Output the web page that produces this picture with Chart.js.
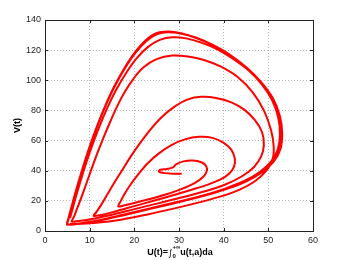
<!DOCTYPE html>
<html>
<head>
<meta charset="utf-8">
<script src="https://cdn.jsdelivr.net/npm/chart.js@4.4.0/dist/chart.umd.min.js"></script>
<style>
  html, body { margin: 0; padding: 0; background: #fff; }
  #wrap { width: 346px; height: 260px; }
</style>
</head>
<body>
<div id="wrap"><canvas id="phaseChart"></canvas></div>
<script>
// === data: one array pair per turn of the spiral ===
// inner "heart", starts at the end point near (30.6, 38)
const heartU = [30.6, 28.8, 26.8, 25.5, 25.8, 27.3, 28.6, 29.4, 31.0, 33.0, 35.0, 36.1, 36.2, 35.4, 33.5, 30.5, 27.0, 23.5, 20.0, 17.6, 16.4];
const heartV = [38.0, 38.0, 38.4, 39.4, 40.6, 41.2, 42.2, 44.3, 46.2, 46.8, 45.6, 43.0, 39.6, 35.8, 31.8, 27.8, 24.2, 21.2, 18.6, 16.9, 16.4];

// turn with top near V=62
const loop62U = [16.9, 17.8, 19.2, 21.0, 23.0, 25.5, 28.3, 31.3, 34.5, 37.5, 40.0, 41.7, 42.5, 42.3, 41.2, 39.3, 36.5, 33.0, 29.0, 24.5, 20.0, 15.5, 12.5, 10.9];
const loop62V = [19.5, 24.5, 31.0, 38.0, 45.0, 51.5, 57.0, 60.8, 62.5, 61.8, 58.5, 54.0, 48.0, 42.5, 38.0, 34.2, 30.8, 27.5, 24.0, 20.2, 16.5, 12.8, 10.6, 10.0];

// turn with top near V=89
const loop89U = [11.5, 12.5, 13.8, 15.4, 17.2, 19.1, 21.2, 23.5, 26.1, 29.0, 32.0, 35.0, 38.3, 41.6, 44.6, 47.0, 48.6, 49.0, 48.4, 46.8, 44.2, 40.5, 36.0, 31.0, 25.5, 20.0, 14.5, 10.0, 7.4, 6.0];
const loop89V = [12.5, 17.0, 23.5, 31.5, 40.0, 49.0, 58.0, 67.0, 75.5, 82.5, 87.3, 89.0, 88.3, 85.5, 80.5, 73.5, 65.5, 57.0, 49.5, 42.5, 36.5, 31.0, 26.5, 22.5, 18.5, 14.5, 10.5, 7.6, 6.6, 6.4];

// turn with top near V=116
const loop116U = [6.5, 7.2, 8.1, 9.2, 10.4, 11.7, 13.1, 14.6, 16.2, 17.9, 19.8, 22.0, 25.0, 28.5, 32.0, 35.6, 39.4, 43.2, 46.5, 49.0, 50.6, 51.2, 50.9, 49.4, 47.0, 43.6, 39.4, 34.5, 29.0, 23.0, 17.0, 11.5, 7.5, 5.6, 5.2];
const loop116V = [9.5, 15.0, 22.0, 31.0, 41.0, 51.5, 62.0, 72.5, 83.0, 92.5, 101.0, 108.5, 114.0, 116.4, 115.8, 113.5, 109.0, 102.0, 92.0, 80.0, 67.0, 56.0, 47.0, 39.5, 33.0, 27.5, 23.0, 19.0, 15.0, 11.0, 7.5, 5.4, 4.8, 4.8];

// turn with top near V=128
const loop128U = [5.6, 6.2, 7.0, 8.0, 9.2, 10.6, 12.2, 14.0, 16.0, 18.2, 20.5, 23.0, 25.7, 28.5, 31.6, 35.0, 38.6, 42.2, 45.6, 48.5, 50.8, 52.2, 52.6, 52.1, 50.6, 48.0, 44.5, 40.0, 35.0, 29.5, 23.5, 17.5, 11.8, 7.6, 5.4, 5.0];
const loop128V = [8.5, 15.0, 23.5, 33.5, 45.0, 57.0, 69.5, 82.0, 94.0, 105.0, 114.5, 122.0, 126.8, 128.5, 127.8, 125.0, 120.5, 114.0, 106.5, 97.5, 87.0, 75.5, 64.0, 54.0, 46.0, 39.0, 33.0, 27.8, 23.3, 19.2, 15.0, 10.8, 7.0, 4.9, 4.3, 4.3];

// outer turns (limit cycle), top near V=131
const loop131U = [5.3, 5.9, 6.7, 7.7, 8.9, 10.3, 11.9, 13.7, 15.7, 17.9, 20.2, 22.6, 25.0, 27.6, 30.6, 34.0, 37.7, 41.5, 45.1, 48.3, 50.9, 52.4, 52.9, 52.5, 51.0, 48.4, 44.9, 40.4, 35.4, 29.9, 23.9, 17.9, 12.1, 7.8, 5.4, 4.9];
const loop131V = [8.2, 14.8, 23.5, 33.8, 45.5, 58.0, 71.0, 84.0, 96.5, 108.0, 118.0, 125.8, 130.5, 131.8, 130.8, 127.8, 123.0, 116.5, 108.0, 98.5, 88.0, 76.0, 64.5, 54.5, 46.3, 39.3, 33.3, 28.1, 23.6, 19.5, 15.3, 11.0, 7.1, 5.0, 4.3, 4.3];
const loop131bU = [5.2, 5.8, 6.6, 7.6, 8.8, 10.2, 11.8, 13.6, 15.6, 17.8, 20.1, 22.5, 24.9, 27.5, 30.5, 33.9, 37.7, 41.5, 45.2, 48.4, 51.0, 52.6, 53.1, 52.7, 51.2, 48.6, 45.1, 40.6, 35.6, 30.1, 24.1, 18.1, 12.3, 8.0, 5.5];
const loop131bV = [8.0, 14.6, 23.3, 33.6, 45.3, 57.8, 70.8, 83.8, 96.5, 108.2, 118.4, 126.4, 131.2, 132.4, 131.3, 128.2, 123.3, 116.8, 108.3, 98.8, 88.2, 76.2, 64.5, 54.3, 46.0, 39.0, 33.0, 27.8, 23.3, 19.2, 15.0, 10.8, 6.9, 4.8, 4.1];

// axes
const uTicks = [0, 10, 20, 30, 40, 50, 60];
const vTicks = [0, 20, 40, 60, 80, 100, 120, 140];

// join all turns into one trajectory
const turnsU = [heartU, loop62U, loop89U, loop116U, loop128U, loop131U, loop131bU];
const turnsV = [heartV, loop62V, loop89V, loop116V, loop128V, loop131V, loop131bV];
const trajectory = [];
turnsU.forEach((us, k) => {
    us.forEach((u, i) => trajectory.push({ x: u, y: turnsV[k][i] }));
});

// MATLAB-like box with inward ticks and the two axis titles
const boxPlugin = {
    id: 'box',
    afterDraw(chart) {
        const ctx = chart.ctx;
        const a = chart.chartArea;
        const xs = chart.scales.x, ys = chart.scales.y;
        ctx.save();
        ctx.strokeStyle = '#222';
        ctx.lineWidth = 1;
        ctx.strokeRect(Math.round(a.left) + 0.5, Math.round(a.top) + 0.5,
            Math.round(a.right - a.left), Math.round(a.bottom - a.top));
        ctx.beginPath();
        uTicks.forEach(t => {
            const px = Math.round(xs.getPixelForValue(t)) + 0.5;
            ctx.moveTo(px, a.bottom); ctx.lineTo(px, a.bottom - 3);
            ctx.moveTo(px, a.top); ctx.lineTo(px, a.top + 3);
        });
        vTicks.forEach(t => {
            const py = Math.round(ys.getPixelForValue(t)) + 0.5;
            ctx.moveTo(a.left, py); ctx.lineTo(a.left + 3, py);
            ctx.moveTo(a.right, py); ctx.lineTo(a.right - 3, py);
        });
        ctx.stroke();

        // x title: U(t)=∫_0^{+∞} u(t,a)da
        ctx.fillStyle = '#000';
        ctx.textBaseline = 'alphabetic';
        const big = 'bold 9px "Liberation Sans", Arial, sans-serif';
        const small = 'bold 6px "Liberation Sans", Arial, sans-serif';
        const parts = [
            { t: 'U(t)=', f: big, dy: 0 },
            { t: '\u222B', f: '9px "DejaVu Sans", sans-serif', dy: 1 },
            { t: '0', f: small, dy: 3 },
            { t: '+\u221E', f: small, dy: -6 },
            { t: 'u(t,a)da', f: big, dy: 0 }
        ];
        let w = 0;
        parts.forEach((p, i) => {
            ctx.font = p.f;
            p.w = ctx.measureText(p.t).width;
            if (i === 2) { p.w = 0; }
        });
        parts.forEach(p => { w += p.w; });
        // subscript and superscript share one slot
        ctx.font = small;
        const slot = Math.max(ctx.measureText('0').width, ctx.measureText('+\u221E').width);
        w += slot - parts[3].w;
        let x = (a.left + a.right) / 2 - w / 2 + 1;
        const base = 255;
        parts.forEach((p, i) => {
            ctx.font = p.f;
            ctx.textAlign = 'left';
            ctx.fillText(p.t, x, base + p.dy);
            if (i === 0 || i === 1) x += p.w;
            if (i === 3) x += slot;
        });

        // y title
        ctx.save();
        ctx.translate(20, (a.top + a.bottom) / 2);
        ctx.rotate(-Math.PI / 2);
        ctx.font = big;
        ctx.textAlign = 'center';
        ctx.fillText('V(t)', 0, 0);
        ctx.restore();
        ctx.restore();
    }
};

const tickFont = { family: '"Liberation Sans", Arial, sans-serif', size: 9 };

new Chart(document.getElementById('phaseChart').getContext('2d'), {
    type: 'scatter',
    data: {
        datasets: [{
            data: trajectory,
            showLine: true,
            borderColor: '#ff0000',
            borderWidth: 2,
            pointRadius: 0,
            tension: 0.35,
            fill: false
        }]
    },
    options: {
        responsive: true,
        maintainAspectRatio: false,
        animation: false,
        devicePixelRatio: 1,
        layout: { padding: { left: 0, top: 20, right: 33, bottom: 0 } },
        plugins: { legend: { display: false }, tooltip: { enabled: false } },
        scales: {
            x: {
                type: 'linear', min: 0, max: 60,
                afterBuildTicks: s => { s.ticks = uTicks.map(v => ({ value: v })); },
                afterFit: s => { s.height = 29; },
                grid: { color: '#b8b8b8', drawTicks: false },
                border: { display: false, dash: [1, 2] },
                ticks: { color: '#222', font: tickFont, padding: 4, maxRotation: 0 }
            },
            y: {
                type: 'linear', min: 0, max: 140,
                afterBuildTicks: s => { s.ticks = vTicks.map(v => ({ value: v })); },
                afterFit: s => { s.width = 45; },
                grid: { color: '#b8b8b8', drawTicks: false },
                border: { display: false, dash: [1, 2] },
                ticks: { color: '#222', font: tickFont, padding: 4 }
            }
        }
    },
    plugins: [boxPlugin]
});
</script>
</body>
</html>
